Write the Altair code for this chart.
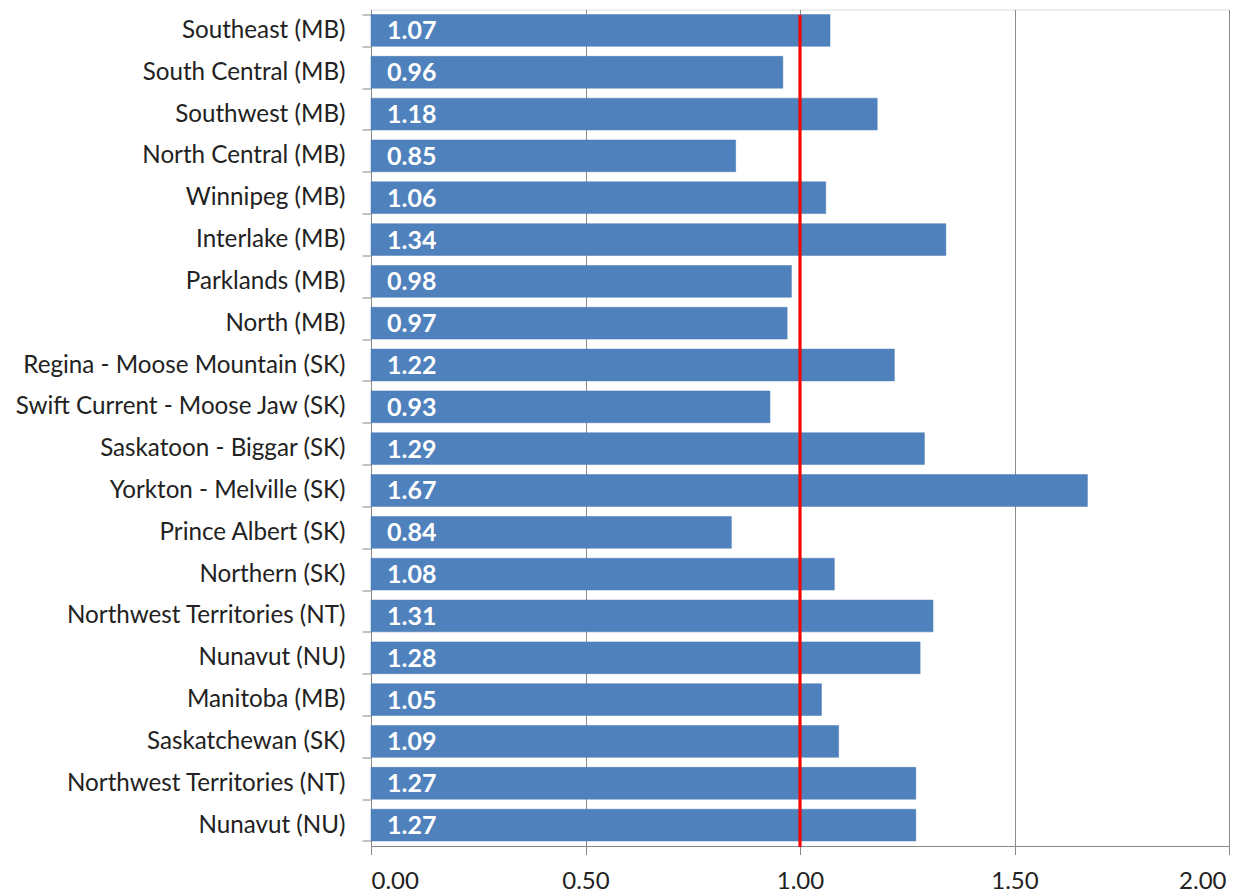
import altair as alt
import pandas as pd

regions = [
    "Southeast (MB)", "South Central (MB)", "Southwest (MB)", "North Central (MB)",
    "Winnipeg (MB)", "Interlake (MB)", "Parklands (MB)", "North (MB)",
    "Regina - Moose Mountain (SK)", "Swift Current - Moose Jaw (SK)",
    "Saskatoon - Biggar (SK)", "Yorkton - Melville (SK)", "Prince Albert (SK)",
    "Northern (SK)", "Northwest Territories (NT)", "Nunavut (NU)",
    "Manitoba (MB)", "Saskatchewan (SK)", "Northwest Territories (NT) ",
    "Nunavut (NU) ",
]
values = [1.07, 0.96, 1.18, 0.85, 1.06, 1.34, 0.98, 0.97, 1.22, 0.93,
          1.29, 1.67, 0.84, 1.08, 1.31, 1.28, 1.05, 1.09, 1.27, 1.27]
ref_value = [1.0]
x_ticks = [0.0, 0.5, 1.0, 1.5, 2.0]

df = pd.DataFrame({"region": regions, "value": values})
ref = pd.DataFrame({"ref": ref_value})

W, H = 858, 836.5
FONT = "Lato"
TXT = "#222222"

y_enc = alt.Y(
    "region:N", sort=regions, title=None,
    scale=alt.Scale(paddingInner=0.24, paddingOuter=0.12),
    axis=alt.Axis(
        labelFontSize=24.2, labelFont=FONT, labelColor=TXT,
        tickBand="extent", tickSize=9, tickColor="#888888",
        domainColor="#888888", labelPadding=17, grid=False,
        labelLimit=600,
    ),
)
x_enc = alt.X(
    "value:Q", title=None,
    scale=alt.Scale(domain=[0, 2], nice=False),
    axis=alt.Axis(
        values=x_ticks, format=".2f", labelFontSize=24, labelFont=FONT,
        labelColor=TXT, tickSize=8.5, tickColor="#888888",
        domainColor="#888888", grid=True, gridColor="#8c8c8c",
        labelPadding=15,
        labelOffset={"condition": {"test": "datum.value == 2", "value": -3}, "value": 0},
    ),
)

bars = alt.Chart(df).mark_bar(color="#4F81BD", stroke="#4A7AB5", strokeWidth=0.5).encode(
    x=x_enc, y=y_enc
)

labels = alt.Chart(df).mark_text(
    align="left", baseline="middle", dx=16, dy=1, color="white",
    fontSize=25, fontWeight="bold", font=FONT,
).encode(
    x=alt.datum(0), y=alt.Y("region:N", sort=regions),
    text=alt.Text("value:Q", format=".2f"),
)

rule = alt.Chart(ref).mark_rule(color="#FF0000", strokeWidth=3.2).encode(
    x="ref:Q", y=alt.value(5.5), y2=alt.value(H + 1)
)

chart = (bars + labels + rule).properties(
    width=W, height=H,
    autosize=alt.AutoSizeParams(type="none"),
    padding={"left": 363, "top": 1.5, "right": 20, "bottom": 50},
).configure_view(
    stroke="#8DB0DE", strokeWidth=1.5
).configure(background="white")

chart.save("out.html", embed_options={"renderer": "svg", "actions": False})
